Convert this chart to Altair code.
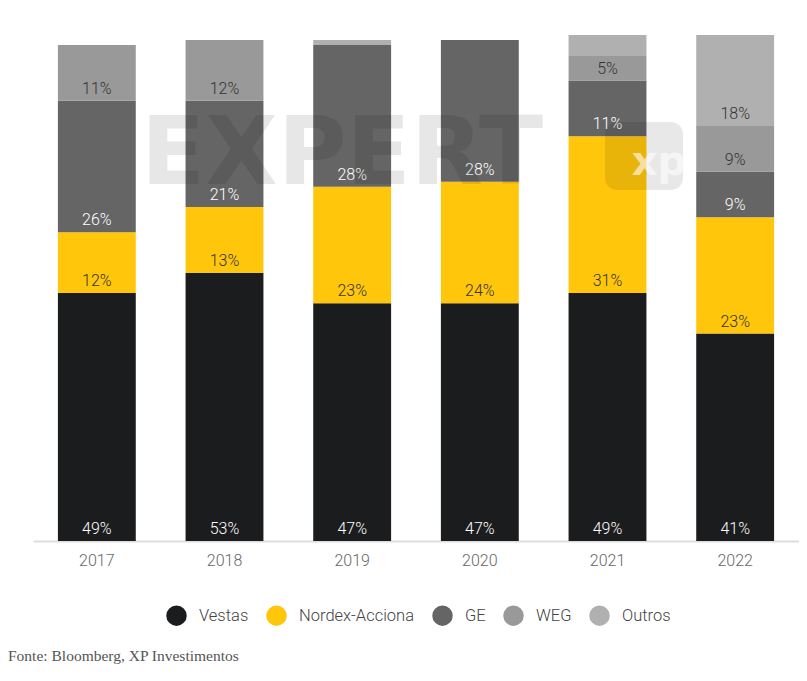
import altair as alt
import pandas as pd

years = ["2017", "2018", "2019", "2020", "2021", "2022"]
series = ["Vestas", "Nordex-Acciona", "GE", "WEG", "Outros"]
vestas = [49, 53, 47, 47, 49, 41]
nordex = [12, 13, 23, 24, 31, 23]
ge = [26, 21, 28, 28, 11, 9]
weg = [11, 12, 0, 0, 5, 9]
outros = [0, 0, 1, 0, 4, 18]
colors = ["#1b1c1e", "#ffc60b", "#656565", "#999999", "#b0b0b0"]
label_colors = ["#ffffff", "#333333", "#ffffff", "#333333", "#333333"]
footer = "Fonte: Bloomberg, XP Investimentos"

rows = []
for s_i, (name, vals) in enumerate(zip(series, [vestas, nordex, ge, weg, outros])):
    for y, v in zip(years, vals):
        rows.append({"ano": y, "empresa": name, "valor": v, "ordem": s_i,
                     "lab": f"{v}%", "lc": label_colors[s_i]})
df = pd.DataFrame(rows)

x = alt.X("ano:N", sort=years, title=None,
          scale=alt.Scale(paddingInner=0.39, paddingOuter=0.195),
          axis=alt.Axis(labelAngle=0, labelFontSize=16, labelColor="#666666",
                        labelFont="Roboto", labelFontWeight=300,
                        ticks=False, domainColor="#dddddd", domainWidth=2,
                        labelPadding=11, grid=False))

base = alt.Chart(df).transform_stack(
    stack="valor", groupby=["ano"], as_=["v0", "v1"],
    sort=[alt.SortField("ordem", "ascending")]
)

bars = base.mark_bar(stroke=None).encode(
    x=x,
    y=alt.Y("v0:Q", scale=alt.Scale(domain=[0, 100], nice=False), axis=None),
    y2="v1:Q",
    color=alt.Color("empresa:N", sort=series,
                    scale=alt.Scale(domain=series, range=colors),
                    legend=alt.Legend(title=None, orient="none", direction="horizontal",
                                      legendX=133, legendY=570,
                                      symbolType="circle", symbolSize=420,
                                      symbolStrokeWidth=0, symbolOpacity=1,
                                      labelFontSize=16.5, labelFont="Roboto",
                                      labelFontWeight=300, labelColor="#444444",
                                      labelOffset=12, columnPadding=17)),
)

labels = base.transform_filter("datum.valor >= 5").mark_text(
    baseline="bottom", dy=-4, fontSize=16, font="Roboto", fontWeight=300
).encode(
    x=alt.X("ano:N", sort=years),
    y=alt.Y("v0:Q"),
    text="lab:N",
    color=alt.Color("lc:N", scale=None),
)

wm_df = pd.DataFrame({"t": ["EXPERT"]})
watermark = alt.Chart(wm_df).mark_text(
    fontSize=94, font="DejaVu Sans", fontWeight="bold", color="#000000",
    opacity=0.09, align="left", baseline="middle"
).encode(x=alt.value(108), y=alt.value(121), text="t:N")

xp_box = alt.Chart(wm_df).mark_rect(
    cornerRadius=12, color="#000000", opacity=0.09
).encode(x=alt.value(572), x2=alt.value(650), y=alt.value(87), y2=alt.value(155))

xp_text = alt.Chart(pd.DataFrame({"t": ["xp"]})).mark_text(
    fontSize=40, font="DejaVu Sans", fontWeight="bold", color="#ffffff",
    opacity=0.6, align="center", baseline="middle"
).encode(x=alt.value(626), y=alt.value(128), text="t:N")

foot_df = pd.DataFrame({"t": [footer]})
foot = alt.Chart(foot_df).mark_text(
    fontSize=15.5, font="Liberation Serif", color="#555555",
    align="left", baseline="middle"
).encode(x=alt.value(-25), y=alt.value(621), text="t:N")

chart = alt.layer(bars, labels, watermark, xp_box, xp_text, foot).properties(
    width=766, height=506,
    padding={"left": 0, "top": 27, "right": 0, "bottom": 0},
).configure_view(stroke=None)

chart.save("out.html", embed_options={"renderer": "svg", "actions": False})
